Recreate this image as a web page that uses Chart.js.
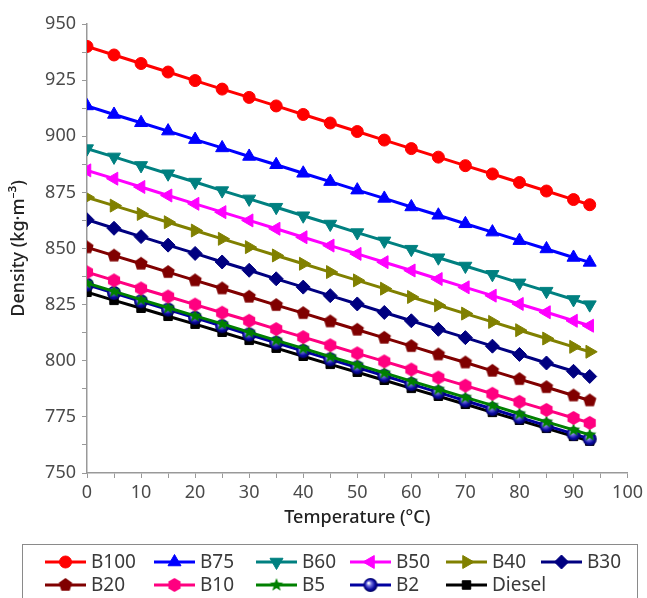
<!DOCTYPE html>
<html>
<head>
<meta charset="utf-8">
<script src="https://cdn.jsdelivr.net/npm/chart.js@4.4.1/dist/chart.umd.min.js"></script>
<style>
  html, body { margin: 0; padding: 0; background: #fff; }
  #wrap { width: 647px; height: 598px; }
</style>
</head>
<body>
<div id="wrap"><canvas id="grafico"></canvas></div>
<script>
// temperaturas (°C)
const temps = [0, 5, 10, 15, 20, 25, 30, 35, 40, 45, 50, 55, 60, 65, 70, 75, 80, 85, 90, 93];

// densidades (kg/m3)
const b100 = [940.0, 936.2, 932.4, 928.6, 924.8, 921.0, 917.3, 913.5, 909.7, 905.9, 902.1, 898.3, 894.5, 890.7, 886.9, 883.2, 879.4, 875.6, 871.8, 869.5];
const b75 = [913.5, 909.7, 906.0, 902.3, 898.5, 894.8, 891.0, 887.3, 883.5, 879.8, 876.0, 872.3, 868.5, 864.8, 861.0, 857.3, 853.5, 849.8, 846.0, 843.8];
const b60 = [894.5, 890.8, 887.0, 883.3, 879.6, 875.8, 872.1, 868.4, 864.6, 860.9, 857.1, 853.4, 849.7, 845.9, 842.2, 838.5, 834.7, 831.0, 827.3, 825.0];
const b50 = [884.8, 881.1, 877.4, 873.6, 869.9, 866.2, 862.5, 858.8, 855.0, 851.3, 847.6, 843.9, 840.2, 836.4, 832.7, 829.0, 825.3, 821.6, 817.8, 815.6];
const b40 = [872.8, 869.1, 865.4, 861.7, 858.0, 854.3, 850.6, 846.9, 843.2, 839.5, 835.8, 832.1, 828.4, 824.7, 821.0, 817.3, 813.6, 809.9, 806.2, 804.0];
const b30 = [862.8, 859.0, 855.3, 851.5, 847.8, 844.0, 840.3, 836.5, 832.8, 829.0, 825.3, 821.5, 817.8, 814.0, 810.3, 806.5, 802.8, 799.0, 795.3, 793.0];
const b20 = [850.5, 846.8, 843.2, 839.5, 835.8, 832.2, 828.5, 824.8, 821.2, 817.5, 813.8, 810.2, 806.5, 802.8, 799.2, 795.5, 791.8, 788.2, 784.5, 782.3];
const b10 = [839.4, 835.8, 832.2, 828.6, 825.0, 821.4, 817.8, 814.1, 810.5, 806.9, 803.3, 799.7, 796.1, 792.5, 788.9, 785.3, 781.7, 778.1, 774.5, 772.3];
const b5 = [834.5, 830.9, 827.2, 823.6, 820.0, 816.4, 812.7, 809.1, 805.5, 801.8, 798.2, 794.6, 790.9, 787.3, 783.7, 780.1, 776.4, 772.8, 769.2, 767.0];
const b2 = [833.9, 830.2, 826.5, 822.8, 819.1, 815.4, 811.7, 808.0, 804.3, 800.6, 797.0, 793.3, 789.6, 785.9, 782.2, 778.5, 774.8, 771.1, 767.4, 765.2];
const diesel = [830.5, 826.9, 823.4, 819.8, 816.3, 812.7, 809.1, 805.6, 802.0, 798.4, 794.9, 791.3, 787.7, 784.2, 780.6, 777.0, 773.5, 769.9, 766.3, 764.2];

const nomes = ["B100", "B75", "B60", "B50", "B40", "B30", "B20", "B10", "B5", "B2", "Diesel"];

// MARCADORES CUSTOMIZADOS
function poligono(n, r, cor, giro) {
  let c = document.createElement("canvas");
  c.width = c.height = r * 2 + 2;
  let ctx = c.getContext("2d");
  ctx.fillStyle = cor;
  ctx.beginPath();
  for (let i = 0; i < n; i++) {
    let a = giro + i * 2 * Math.PI / n;
    ctx.lineTo(r + 1 + r * Math.cos(a), r + 1 + r * Math.sin(a));
  }
  ctx.closePath();
  ctx.fill();
  return c;
}
function estrela(r, cor) {
  let c = document.createElement("canvas");
  c.width = c.height = r * 2 + 2;
  let ctx = c.getContext("2d");
  ctx.fillStyle = cor;
  ctx.beginPath();
  for (let i = 0; i < 10; i++) {
    let a = -Math.PI / 2 + i * Math.PI / 5;
    let rr = i % 2 ? r * 0.42 : r;
    ctx.lineTo(r + 1 + rr * Math.cos(a), r + 1 + rr * Math.sin(a));
  }
  ctx.closePath();
  ctx.fill();
  return c;
}
function bola(r) {
  let c = document.createElement("canvas");
  c.width = c.height = r * 2 + 2;
  let ctx = c.getContext("2d");
  let g = ctx.createRadialGradient(r - 1, r - 1, 0.5, r + 1, r + 1, r);
  g.addColorStop(0, "#ffffff");
  g.addColorStop(0.3, "#6f6fe0");
  g.addColorStop(0.7, "#0a0aa0");
  g.addColorStop(1, "#00005a");
  ctx.fillStyle = g;
  ctx.beginPath();
  ctx.arc(r + 1, r + 1, r, 0, Math.PI * 2);
  ctx.fill();
  return c;
}

const pentagono = poligono(5, 7, "#800000", -Math.PI / 2);
const hexagono = poligono(6, 7, "#ff0080", -Math.PI / 2);
const estrelaVerde = estrela(7, "#008000");
const bolaAzul = bola(7);

const series = [
  { nome: nomes[0], dados: b100, cor: "#ff0000", estilo: "circle", raio: 6, rot: 0 },
  { nome: nomes[1], dados: b75, cor: "#0000ff", estilo: "triangle", raio: 7.5, rot: 0 },
  { nome: nomes[2], dados: b60, cor: "#008080", estilo: "triangle", raio: 7.5, rot: 180 },
  { nome: nomes[3], dados: b50, cor: "#ff00ff", estilo: "triangle", raio: 7.5, rot: -90 },
  { nome: nomes[4], dados: b40, cor: "#808000", estilo: "triangle", raio: 7.5, rot: 90 },
  { nome: nomes[5], dados: b30, cor: "#000080", estilo: "rectRot", raio: 7, rot: 0 },
  { nome: nomes[6], dados: b20, cor: "#800000", estilo: pentagono, raio: 7, rot: 0 },
  { nome: nomes[7], dados: b10, cor: "#ff0080", estilo: hexagono, raio: 7, rot: 0 },
  { nome: nomes[8], dados: b5, cor: "#008000", estilo: estrelaVerde, raio: 7, rot: 0 },
  { nome: nomes[9], dados: b2, cor: "#0000a0", estilo: bolaAzul, raio: 7, rot: 0 },
  { nome: nomes[10], dados: diesel, cor: "#000000", estilo: "rect", raio: 6, rot: 0 },
];

const fonte = "'Noto Sans', 'DejaVu Sans', sans-serif";

// LEGENDA EM GRADE (desenhada no canvas)
const colunasX = [45, 154, 256, 350, 446, 541];
const legendaGrade = {
  id: "legendaGrade",
  afterDraw(chart) {
    let ctx = chart.ctx;
    ctx.save();
    ctx.strokeStyle = "#8a8a8a";
    ctx.lineWidth = 1;
    ctx.strokeRect(22.5, 544.5, 615, 60);
    ctx.font = "19px " + fonte;
    ctx.textBaseline = "middle";
    series.forEach((s, i) => {
      let x = colunasX[i % 6];
      let y = i < 6 ? 562 : 585;
      ctx.strokeStyle = s.cor;
      ctx.lineWidth = 3;
      ctx.beginPath();
      ctx.moveTo(x, y);
      ctx.lineTo(x + 41, y);
      ctx.stroke();
      ctx.fillStyle = s.cor;
      ctx.strokeStyle = s.cor;
      ctx.lineWidth = 1;
      Chart.helpers.drawPoint(ctx, { pointStyle: s.estilo, radius: s.raio, rotation: s.rot, borderWidth: 1 }, x + 20.5, y);
      ctx.fillStyle = "#3a3a3a";
      ctx.fillText(s.nome, x + 46, y + 1);
    });
    ctx.restore();
  },
};

let grafico = new Chart(document.getElementById("grafico"), {
  type: "line",
  data: {
    datasets: series.map((s) => ({
      label: s.nome,
      data: temps.map((t, i) => ({ x: t, y: s.dados[i] })),
      borderColor: s.cor,
      backgroundColor: s.cor,
      borderWidth: 3,
      pointStyle: s.estilo,
      pointRadius: s.raio,
      pointRotation: s.rot,
      pointBorderWidth: 1,
      tension: 0,
    })),
  },
  options: {
    responsive: true,
    maintainAspectRatio: false,
    animation: false,
    layout: { padding: { top: 24, right: 17, bottom: 65, left: 0 } },
    plugins: {
      legend: { display: false },
      tooltip: { enabled: false },
    },
    scales: {
      x: {
        type: "linear",
        min: 0,
        max: 100,
        afterFit: (scale) => { scale.height = 60; },
        ticks: {
          stepSize: 5,
          autoSkip: false,
          maxRotation: 0,
          padding: 4,
          color: "#4a4a4a",
          font: { family: fonte, size: 18 },
          callback: (v) => (v % 10 === 0 ? v : ""),
        },
        grid: { drawOnChartArea: false, drawTicks: true, tickLength: 5, color: "#999" },
        border: { color: "#999", width: 1.5 },
        title: {
          display: true,
          text: "Temperature (°C)",
          color: "#222",
          font: { family: fonte, size: 18, weight: "500" },
          padding: { top: 6 },
        },
      },
      y: {
        min: 750,
        max: 950,
        afterFit: (scale) => { scale.width = 87; },
        ticks: {
          stepSize: 12.5,
          autoSkip: false,
          padding: 6,
          color: "#4a4a4a",
          font: { family: fonte, size: 18 },
          callback: (v) => (v % 25 === 0 ? v : ""),
        },
        grid: { drawOnChartArea: false, drawTicks: true, tickLength: 5, color: "#999" },
        border: { color: "#999", width: 1.5 },
        title: {
          display: true,
          text: "Density (kg·m⁻³)",
          color: "#222",
          font: { family: fonte, size: 18, weight: "500" },
          padding: { top: 8, bottom: 0 },
        },
      },
    },
  },
  plugins: [legendaGrade],
});
</script>
</body>
</html>
